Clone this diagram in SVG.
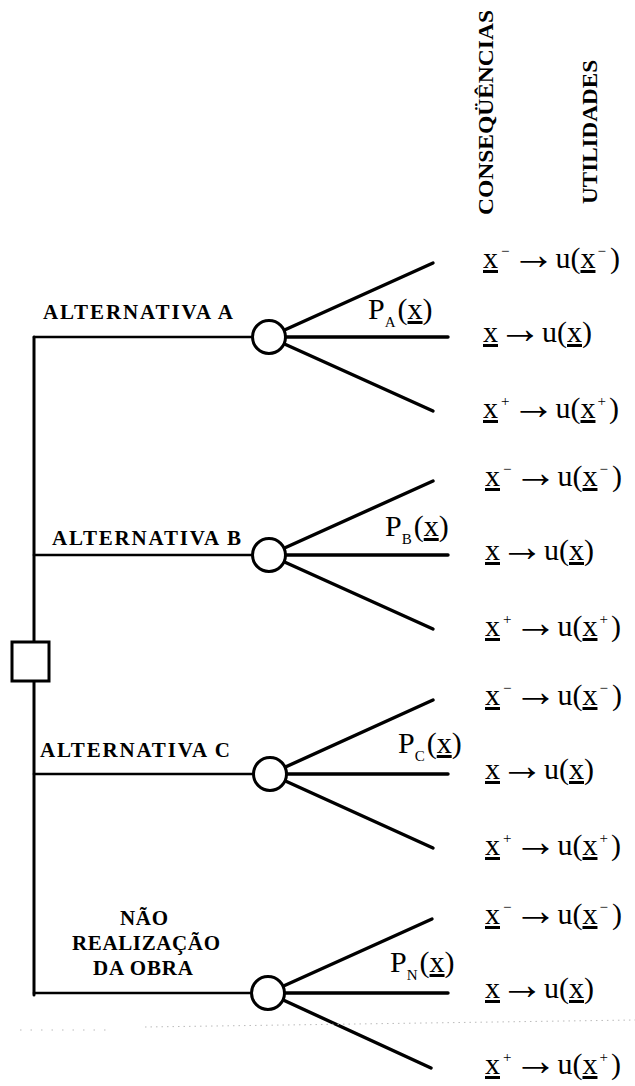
<svg xmlns="http://www.w3.org/2000/svg" width="635" height="1086" viewBox="0 0 635 1086">
<style>
.ln{stroke:#000;fill:none;stroke-linecap:round}
.h{stroke-width:2.6}
.br{stroke-width:3.4}
.node{fill:#fff;stroke:#000;stroke-width:3}
.alt{font-family:"Liberation Serif",serif;font-weight:bold;font-size:21px;fill:#000}
.hdr{font-family:"Liberation Serif",serif;font-weight:bold;font-size:22px;fill:#000}
.row{font-family:"Liberation Serif",serif;font-size:30px;fill:#000}
.ul{text-decoration:underline}
.sp{font-size:15px}
.sub{font-size:15px}
.ar{font-size:44px}
.p{font-family:"Liberation Serif",serif;font-size:30px;fill:#000}
</style>
<rect width="635" height="1086" fill="#fff"/>

<g id="headers">
<text class="hdr" transform="translate(493,215) rotate(-90)" textLength="205" lengthAdjust="spacingAndGlyphs">CONSEQÜÊNCIAS</text>
<text class="hdr" transform="translate(597,204) rotate(-90)" textLength="144" lengthAdjust="spacingAndGlyphs">UTILIDADES</text>
</g>

<g id="connectors">
<line class="ln" x1="34" y1="337" x2="34" y2="995" stroke-width="3"/>
<line class="ln h" x1="34" y1="337" x2="255" y2="337"/>
<line class="ln h" x1="34" y1="555" x2="255" y2="555"/>
<line class="ln h" x1="34" y1="774" x2="255" y2="774"/>
<line class="ln h" x1="34" y1="993" x2="255" y2="993"/>
<g id="branches-A">
<line class="ln br" x1="269" y1="337" x2="433" y2="263"/>
<line class="ln br" x1="269" y1="337" x2="448" y2="337"/>
<line class="ln br" x1="269" y1="337" x2="433" y2="411"/>
</g>
<g id="branches-B">
<line class="ln br" x1="269" y1="555" x2="433" y2="481"/>
<line class="ln br" x1="269" y1="555" x2="448" y2="555"/>
<line class="ln br" x1="269" y1="555" x2="433" y2="629"/>
</g>
<g id="branches-C">
<line class="ln br" x1="270" y1="774" x2="433" y2="700"/>
<line class="ln br" x1="270" y1="774" x2="448" y2="774"/>
<line class="ln br" x1="270" y1="774" x2="433" y2="848"/>
</g>
<g id="branches-N">
<line class="ln br" x1="268" y1="993" x2="432" y2="919"/>
<line class="ln br" x1="268" y1="993" x2="448" y2="993"/>
<line class="ln br" x1="268" y1="993" x2="431" y2="1068"/>
</g>
</g>

<g id="scan-artifact" stroke="#bbb" stroke-width="1" stroke-dasharray="1.5,4">
<line x1="20" y1="1030" x2="108" y2="1030" stroke-dasharray="1.5,9"/>
<line x1="145" y1="1027" x2="635" y2="1020"/>
</g>

<g id="decision">
<rect class="node" x="12" y="642" width="37" height="39"/>
</g>

<g id="alt-A">
<text class="alt" x="43" y="319" textLength="190" lengthAdjust="spacing">ALTERNATIVA  A</text>
<circle class="node" cx="269" cy="337" r="16.5"/>
<text class="p" x="368" y="319">P<tspan class="sub" dy="8">A</tspan><tspan dy="-8" dx="2">(</tspan><tspan class="ul">x</tspan>)</text>
</g>
<g id="alt-B">
<text class="alt" x="52" y="545" textLength="189" lengthAdjust="spacing">ALTERNATIVA  B</text>
<circle class="node" cx="269" cy="555" r="16.5"/>
<text class="p" x="385" y="536">P<tspan class="sub" dy="8">B</tspan><tspan dy="-8" dx="2">(</tspan><tspan class="ul">x</tspan>)</text>
</g>
<g id="alt-C">
<text class="alt" x="40" y="757" textLength="190" lengthAdjust="spacing">ALTERNATIVA  C</text>
<circle class="node" cx="270" cy="774" r="16.5"/>
<text class="p" x="398" y="753">P<tspan class="sub" dy="8">C</tspan><tspan dy="-8" dx="2">(</tspan><tspan class="ul">x</tspan>)</text>
</g>
<g id="alt-N">
<text class="alt" x="144" y="925" text-anchor="middle" textLength="48" lengthAdjust="spacing">NÃO</text>
<text class="alt" x="146" y="950" text-anchor="middle" textLength="148" lengthAdjust="spacing">REALIZAÇÃO</text>
<text class="alt" x="143" y="975" text-anchor="middle" textLength="100" lengthAdjust="spacing">DA OBRA</text>
<circle class="node" cx="268" cy="993" r="16.5"/>
<text class="p" x="390" y="972">P<tspan class="sub" dy="8">N</tspan><tspan dy="-8" dx="2">(</tspan><tspan class="ul">x</tspan>)</text>
</g>

<g id="outcomes-A">
<text class="row" x="483" y="268"><tspan class="ul">x</tspan><tspan class="sp" dx="3" dy="-12">−</tspan><tspan class="ar" dx="2" dy="13">→</tspan><tspan dy="-1">u(</tspan><tspan class="ul">x</tspan><tspan class="sp" dx="2" dy="-12">−</tspan><tspan dy="12" dx="4">)</tspan></text>
<text class="row" x="483" y="342"><tspan class="ul">x</tspan><tspan class="ar" dy="1">→</tspan><tspan dy="-1">u(</tspan><tspan class="ul">x</tspan>)</text>
<text class="row" x="483" y="418"><tspan class="ul">x</tspan><tspan class="sp" dx="3" dy="-12">+</tspan><tspan class="ar" dx="2" dy="13">→</tspan><tspan dy="-1">u(</tspan><tspan class="ul">x</tspan><tspan class="sp" dx="2" dy="-12">+</tspan><tspan dy="12" dx="3">)</tspan></text>
</g>
<g id="outcomes-B">
<text class="row" x="485" y="486"><tspan class="ul">x</tspan><tspan class="sp" dx="3" dy="-12">−</tspan><tspan class="ar" dx="2" dy="13">→</tspan><tspan dy="-1">u(</tspan><tspan class="ul">x</tspan><tspan class="sp" dx="2" dy="-12">−</tspan><tspan dy="12" dx="4">)</tspan></text>
<text class="row" x="485" y="560"><tspan class="ul">x</tspan><tspan class="ar" dy="1">→</tspan><tspan dy="-1">u(</tspan><tspan class="ul">x</tspan>)</text>
<text class="row" x="485" y="636"><tspan class="ul">x</tspan><tspan class="sp" dx="3" dy="-12">+</tspan><tspan class="ar" dx="2" dy="13">→</tspan><tspan dy="-1">u(</tspan><tspan class="ul">x</tspan><tspan class="sp" dx="2" dy="-12">+</tspan><tspan dy="12" dx="3">)</tspan></text>
</g>
<g id="outcomes-C">
<text class="row" x="485" y="705"><tspan class="ul">x</tspan><tspan class="sp" dx="3" dy="-12">−</tspan><tspan class="ar" dx="2" dy="13">→</tspan><tspan dy="-1">u(</tspan><tspan class="ul">x</tspan><tspan class="sp" dx="2" dy="-12">−</tspan><tspan dy="12" dx="4">)</tspan></text>
<text class="row" x="485" y="779"><tspan class="ul">x</tspan><tspan class="ar" dy="1">→</tspan><tspan dy="-1">u(</tspan><tspan class="ul">x</tspan>)</text>
<text class="row" x="485" y="855"><tspan class="ul">x</tspan><tspan class="sp" dx="3" dy="-12">+</tspan><tspan class="ar" dx="2" dy="13">→</tspan><tspan dy="-1">u(</tspan><tspan class="ul">x</tspan><tspan class="sp" dx="2" dy="-12">+</tspan><tspan dy="12" dx="3">)</tspan></text>
</g>
<g id="outcomes-N">
<text class="row" x="485" y="924"><tspan class="ul">x</tspan><tspan class="sp" dx="3" dy="-12">−</tspan><tspan class="ar" dx="2" dy="13">→</tspan><tspan dy="-1">u(</tspan><tspan class="ul">x</tspan><tspan class="sp" dx="2" dy="-12">−</tspan><tspan dy="12" dx="4">)</tspan></text>
<text class="row" x="485" y="998"><tspan class="ul">x</tspan><tspan class="ar" dy="1">→</tspan><tspan dy="-1">u(</tspan><tspan class="ul">x</tspan>)</text>
<text class="row" x="485" y="1074"><tspan class="ul">x</tspan><tspan class="sp" dx="3" dy="-12">+</tspan><tspan class="ar" dx="2" dy="13">→</tspan><tspan dy="-1">u(</tspan><tspan class="ul">x</tspan><tspan class="sp" dx="2" dy="-12">+</tspan><tspan dy="12" dx="3">)</tspan></text>
</g>
</svg>
